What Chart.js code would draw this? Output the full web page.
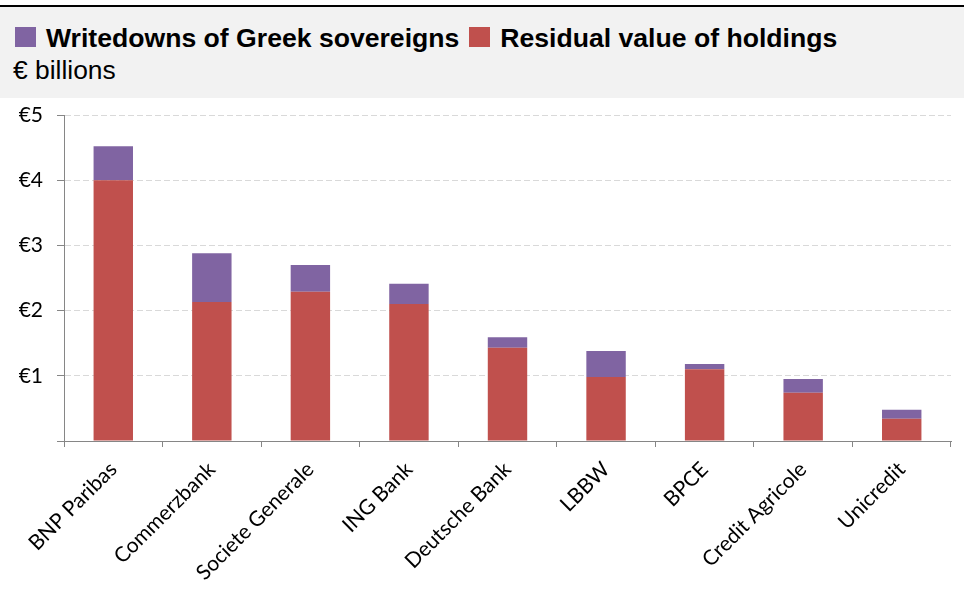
<!DOCTYPE html>
<html>
<head>
<meta charset="utf-8">
<script src="https://cdn.jsdelivr.net/npm/chart.js@4"></script>
<style>
  html, body { margin: 0; padding: 0; background: #fff; }
  body { width: 964px; height: 591px; position: relative; overflow: hidden; }
  .top-rule { position: absolute; left: 0; top: 5px; width: 964px; height: 2px; background: #000; }
  .header { position: absolute; left: 0; top: 7px; width: 964px; height: 91px; background: #f2f2f2; font-family: "Liberation Sans", Arial, sans-serif; color: #000; }
  .legend { position: absolute; left: 15px; top: 16px; font-size: 26.6px; font-weight: bold; white-space: nowrap; }
  .legend .sw { display: inline-block; width: 21px; height: 20px; vertical-align: 0px; margin-right: 10px; }
  .legend .item { margin-right: 10px; }
  .unit { position: absolute; left: 13px; top: 48px; font-size: 26.4px; }
  .chart-box { position: absolute; left: 0; top: 100px; width: 964px; height: 491px; }
</style>
</head>
<body>
<div class="top-rule"></div>
<div class="header">
  <div class="legend">
    <span class="item"><span class="sw" style="background:#8064a2"></span>Writedowns of Greek sovereigns</span><span class="item"><span class="sw" style="background:#c0504d"></span>Residual value of holdings</span>
  </div>
  <div class="unit">€ billions</div>
</div>
<div class="chart-box"><canvas id="banks-chart" width="964" height="491"></canvas></div>

<script>
const banks = ["BNP Paribas", "Commerzbank", "Societe Generale", "ING Bank", "Deutsche Bank", "LBBW", "BPCE", "Credit Agricole", "Unicredit"];
const residual = [4.00, 2.13, 2.29, 2.10, 1.43, 0.98, 1.10, 0.74, 0.34];
const writedowns = [0.52, 0.75, 0.41, 0.31, 0.16, 0.40, 0.08, 0.21, 0.14];
const yTicks = [0, 1, 2, 3, 4, 5];

const tickFont = { family: "Lato, 'Open Sans', sans-serif", size: 21 };
const axisGrey = '#868686';

const ctx = document.getElementById('banks-chart').getContext('2d');

new Chart(ctx, {
    type: 'bar',
    data: {
        labels: banks,
        datasets: [
            {
                label: 'Residual value of holdings',
                data: residual,
                backgroundColor: '#c0504d',
                barPercentage: 0.4,
                categoryPercentage: 1.0
            },
            {
                label: 'Writedowns of Greek sovereigns',
                data: writedowns,
                backgroundColor: '#8064a2',
                barPercentage: 0.4,
                categoryPercentage: 1.0
            }
        ]
    },
    options: {
        responsive: false,
        animation: false,
        layout: { padding: { top: 15, right: 13, left: 0, bottom: 0 } },
        plugins: {
            legend: { display: false },
            tooltip: { enabled: false }
        },
        scales: {
            x: {
                stacked: true,
                grid: {
                    drawOnChartArea: false,
                    tickLength: 6,
                    tickColor: axisGrey
                },
                border: { color: axisGrey, width: 1 },
                ticks: {
                    color: '#000',
                    font: tickFont,
                    maxRotation: 45,
                    minRotation: 45,
                    autoSkip: false,
                    padding: 10
                },
                afterFit: function(scale) { scale.height = 150; }
            },
            y: {
                stacked: true,
                min: 0,
                max: 5,
                afterBuildTicks: function(scale) {
                    scale.ticks = yTicks.map(v => ({ value: v }));
                },
                grid: {
                    color: ctx => ctx.tick && ctx.tick.value === 0 ? 'rgba(0,0,0,0)' : '#d9d9d9',
                    tickColor: axisGrey,
                    tickLength: 7,
                    lineWidth: 1
                },
                border: { color: axisGrey, width: 1, dash: [6, 3] },
                ticks: {
                    color: '#000',
                    font: tickFont,
                    padding: 14,
                    callback: function(val) {
                        return val === 0 ? '' : '€' + val;
                    }
                },
                afterFit: function(scale) {
                    scale.width = 64;
                    // the tick padding would otherwise push the plot down
                    scale.paddingTop = 0;
                    scale.paddingBottom = 0;
                }
            }
        }
    }
});
</script>
</body>
</html>
